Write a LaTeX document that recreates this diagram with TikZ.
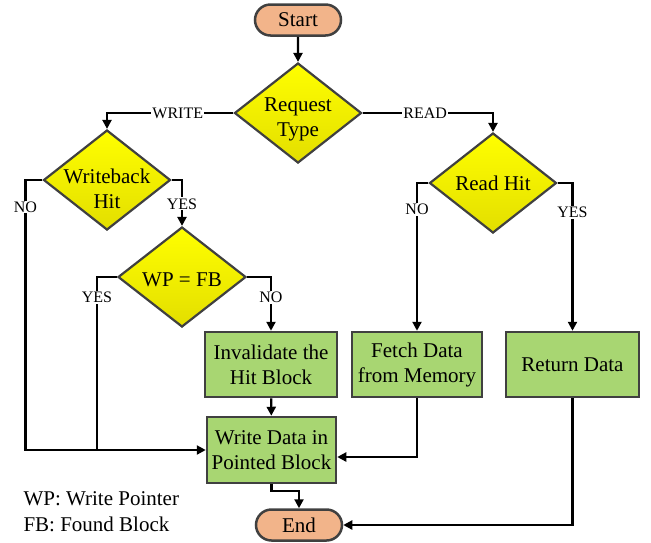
\documentclass[tikz,border=0pt]{standalone}
\usepackage{fontspec}
\setmainfont{Liberation Serif}
\usetikzlibrary{shapes.geometric,shapes.misc,arrows.meta}
\definecolor{bordc}{HTML}{404040}
\definecolor{yelA}{HTML}{FFFF00}
\definecolor{yelB}{HTML}{E3DE00}
\definecolor{grn}{HTML}{A8D672}
\definecolor{org}{HTML}{F2B48A}
\begin{document}
\begin{tikzpicture}[x=1pt,y=-1pt,
 txt/.style={font=\fontsize{21}{25}\selectfont, align=center},
 dia/.style={diamond, draw=bordc, line width=2.2pt, top color=yelA, bottom color=yelB, minimum width=127pt, minimum height=100pt, inner sep=0pt},
 box/.style={rectangle, draw=bordc, line width=2.5pt, fill=grn, minimum height=65pt, inner sep=0pt, txt},
 term/.style={rounded rectangle, draw=bordc, line width=2.5pt, fill=org, minimum width=86pt, minimum height=31pt, inner sep=0pt, txt},
 arr/.style={line width=2.2pt, -{Triangle[length=9pt,width=9pt]}},
 con/.style={line width=2.2pt},
 lbl/.style={fill=white, inner sep=1pt, font=\fontsize{16}{18}\selectfont}]
\useasboundingbox (0,0) rectangle (651,542);

\node[term] (start) at (298,20) {Start};
\node[dia, label={[txt,yshift=-6pt]center:Request\\Type}] (req) at (298,113) {};
\node[dia, label={[txt,yshift=-9pt]center:Writeback\\Hit}] (wb) at (107,180) {};
\node[dia, minimum width=128pt, label={[txt,yshift=-3pt]center:WP = FB}] (wp) at (182,277) {};
\node[dia, label={[txt]center:Read Hit}] (rh) at (493,183) {};
\node[box, minimum width=132pt] (inv) at (271,364.5) {Invalidate the\\Hit Block};
\node[box, minimum width=129pt, minimum height=66pt] (wd) at (271.5,450) {Write Data in\\Pointed Block};
\node[box, minimum width=130pt] (fetch) at (417,364.5) {Fetch Data\\from Memory};
\node[box, minimum width=133pt] (ret) at (572.5,364.5) {Return Data};
\node[term] (end) at (299,525) {End};

\node[anchor=base west, txt] (lg1) at (20,505) {WP: Write Pointer};
\node[anchor=base west, txt] (lg2) at (20,531) {FB: Found Block};

\coordinate (j) at (97,450);

\draw[arr] (start) -- (req);
\draw[arr] (req.west) -| (wb.north) node[lbl,pos=0.22]{WRITE};
\draw[arr] (req.east) -| (rh.north) node[lbl,pos=0.24]{READ};
\draw[arr] (wb.west) -- ++(-17,0) |- (wd.west) node[lbl,pos=0.05]{NO};
\draw[arr] (wb.east) -| (wp.north) node[lbl,pos=0.76]{YES};
\draw[con] (wp.west) -| (j) node[lbl,pos=0.56]{YES};
\draw[arr] (wp.east) -| (inv.north) node[lbl,pos=0.69]{NO};
\draw[arr] (inv) -- (wd);
\draw[arr] (rh.west) -| (fetch.north) node[lbl,pos=0.59]{NO};
\draw[arr] (rh.east) -| (ret.north) node[lbl,pos=0.6]{YES};
\draw[arr] (fetch.south) |- ([yshift=-7pt]wd.east);
\draw[arr] (wd.south) -- ++(0,7) -| (end.north);
\draw[arr] (ret.south) |- (end.east);
\end{tikzpicture}
\end{document}
